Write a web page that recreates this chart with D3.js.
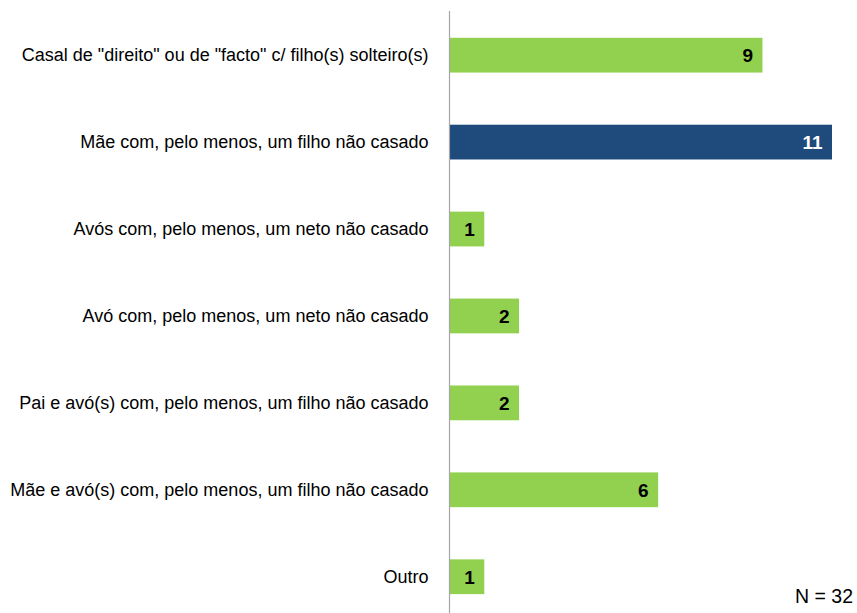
<!DOCTYPE html>
<html>
<head>
<meta charset="utf-8">
<script src="https://cdn.jsdelivr.net/npm/d3@7"></script>
<style>
  html, body { margin: 0; padding: 0; background: #fff; }
  svg { display: block; font-family: "Liberation Sans", Arial, sans-serif; }
</style>
</head>
<body>
<div id="chart"></div>
<script>
// Household types and counts
const categories = [
  'Casal de "direito" ou de "facto" c/ filho(s) solteiro(s)',
  "Mãe com, pelo menos, um filho não casado",
  "Avós com, pelo menos, um neto não casado",
  "Avó com, pelo menos, um neto não casado",
  "Pai e avó(s) com, pelo menos, um filho não casado",
  "Mãe e avó(s) com, pelo menos, um filho não casado",
  "Outro"
];
const values = [9, 11, 1, 2, 2, 6, 1];
const highlighted = ["Mãe com, pelo menos, um filho não casado"];
const note = "N = 32";

const width = 857, height = 613;
const green = "#92D050", blue = "#1F4A7C";

const svg = d3.select("#chart").append("svg")
  .attr("width", width).attr("height", height);

const x = d3.scaleLinear().domain([0, 11]).range([449.5, 832]);
const y = d3.scaleBand().domain(categories)
  .range([11.7, 620.2]).paddingInner(0.6).paddingOuter(0.3);

const data = categories.map((c, i) => ({ cat: c, val: values[i], hi: highlighted.includes(c) }));

// bars
svg.append("g").selectAll("rect").data(data).join("rect")
  .attr("x", x(0))
  .attr("y", d => y(d.cat))
  .attr("width", d => x(d.val) - x(0))
  .attr("height", y.bandwidth())
  .attr("fill", d => d.hi ? blue : green);

// value labels inside bar ends
svg.append("g").selectAll("text").data(data).join("text")
  .attr("x", d => x(d.val) - 9.5)
  .attr("y", d => y(d.cat) + y.bandwidth() / 2)
  .attr("dy", "0.38em")
  .attr("text-anchor", "end")
  .attr("font-size", 19)
  .attr("font-weight", "bold")
  .attr("fill", d => d.hi ? "#fff" : "#000")
  .text(d => d.val);

// category axis
const axis = svg.append("g")
  .attr("transform", `translate(${x(0)},0)`)
  .call(d3.axisLeft(y).tickSize(0).tickPadding(21));
axis.select(".domain").attr("stroke", "#a6a6a6").attr("stroke-width", 1.2)
  .attr("d", `M0,11V${height}`);
axis.selectAll(".tick text")
  .attr("font-family", '"Liberation Sans", Arial, sans-serif')
  .attr("font-size", 18)
  .attr("dy", "0.34em")
  .attr("fill", "#000");

// sample size note
svg.append("text")
  .attr("x", 853).attr("y", 603)
  .attr("text-anchor", "end")
  .attr("font-size", 19.5)
  .attr("fill", "#000")
  .text(note);
</script>
</body>
</html>
